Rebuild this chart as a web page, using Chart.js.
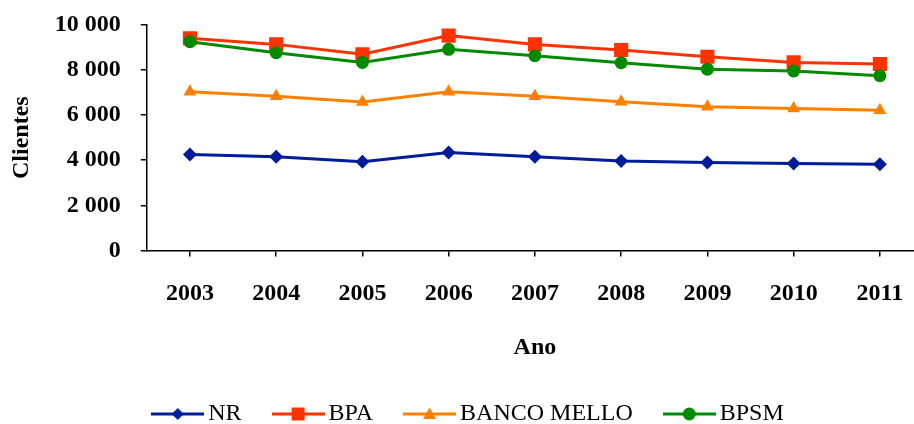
<!DOCTYPE html>
<html>
<head>
<meta charset="utf-8">
<script src="https://cdn.jsdelivr.net/npm/chart.js@4.4.1/dist/chart.umd.min.js"></script>
<style>
    html, body { margin: 0; padding: 0; background: #fff; overflow: hidden; }
    #wrap { width: 933px; height: 424px; }
</style>
</head>
<body>
<div id="wrap"><canvas id="chartClients" width="933" height="424"></canvas></div>
<script>
const years = ["2003", "2004", "2005", "2006", "2007", "2008", "2009", "2010", "2011"];
const nrValues = [4250, 4150, 3930, 4340, 4150, 3970, 3900, 3850, 3820];
const bpaValues = [9410, 9140, 8700, 9530, 9140, 8890, 8590, 8340, 8270];
const melloValues = [7040, 6840, 6580, 7040, 6840, 6590, 6370, 6300, 6220];
const bpsmValues = [9260, 8770, 8340, 8920, 8640, 8330, 8040, 7960, 7750];
const yTicks = [0, 2000, 4000, 6000, 8000, 10000];

const serif = "'Liberation Serif', 'Times New Roman', serif";

// little line+marker pictures for the legend
function legendIcon(color, shape) {
    const c = document.createElement("canvas");
    c.width = 53;
    c.height = 20;
    const g = c.getContext("2d");
    g.strokeStyle = color;
    g.fillStyle = color;
    g.lineWidth = 3;
    g.beginPath();
    g.moveTo(0, 10);
    g.lineTo(53, 10);
    g.stroke();
    g.beginPath();
    if (shape == "diamond") {
        g.moveTo(26.5, 4); g.lineTo(32.5, 10); g.lineTo(26.5, 16); g.lineTo(20.5, 10);
    } else if (shape == "square") {
        g.rect(20, 3.5, 13, 13);
    } else if (shape == "triangle") {
        g.moveTo(26.5, 3.5); g.lineTo(33, 15); g.lineTo(20, 15);
    } else {
        g.arc(26.5, 10, 6.5, 0, Math.PI * 2);
    }
    g.closePath();
    g.fill();
    return c;
}

const series = [
    { label: "NR", data: nrValues, color: "#001C99", style: "rectRot", r: 7, icon: "diamond", order: 4 },
    { label: "BPA", data: bpaValues, color: "#FF3300", style: "rect", r: 10, icon: "square", order: 3 },
    { label: "BANCO MELLO", data: melloValues, color: "#FF8000", style: "triangle", r: 7.5, icon: "triangle", order: 2 },
    { label: "BPSM", data: bpsmValues, color: "#008A00", style: "circle", r: 6.5, icon: "circle", order: 1 }
];
const icons = series.map(s => legendIcon(s.color, s.icon));

let chart = new Chart(document.getElementById("chartClients").getContext("2d"), {
    type: "line",
    data: {
        labels: years,
        datasets: series.map(s => ({
            label: s.label,
            data: s.data,
            borderColor: s.color,
            backgroundColor: s.color,
            borderWidth: 3,
            pointStyle: s.style,
            pointRadius: s.r,
            pointBorderWidth: 0,
            pointBackgroundColor: s.color,
            tension: 0,
            order: s.order
        }))
    },
    options: {
        responsive: false,
        animation: false,
        layout: { padding: { top: 25, left: 10, right: 0, bottom: -12 } },
        plugins: {
            tooltip: { enabled: false },
            legend: {
                position: "bottom",
                labels: {
                    usePointStyle: true,
                    pointStyleWidth: 37,
                    padding: 38,
                    color: "#000",
                    font: { family: serif, size: 24 },
                    generateLabels: (ch) => ch.data.datasets.map((ds, i) => ({
                        text: ds.label,
                        pointStyle: icons[i],
                        fillStyle: ds.borderColor,
                        strokeStyle: ds.borderColor,
                        lineWidth: 0,
                        hidden: false,
                        fontColor: "#000",
                        datasetIndex: i
                    }))
                }
            }
        },
        scales: {
            x: {
                offset: true,
                border: { color: "#000", width: 1.5 },
                grid: { drawOnChartArea: false, color: "#000", lineWidth: 1.5, tickLength: 6 },
                ticks: { color: "#000", padding: 23, maxRotation: 0, font: { family: serif, size: 24, weight: "bold" } },
                title: {
                    display: true,
                    text: "Ano",
                    color: "#000",
                    padding: { top: 2, bottom: 2 },
                    font: { family: serif, size: 24, weight: "bold" }
                }
            },
            y: {
                min: 0,
                max: 10000,
                border: { color: "#000", width: 1.5 },
                grid: { drawOnChartArea: false, color: "#000", lineWidth: 1.5, tickLength: 6 },
                afterBuildTicks: (axis) => { axis.ticks = yTicks.map(v => ({ value: v })); },
                afterFit: (axis) => { axis.paddingTop = 0; },
                ticks: {
                    color: "#000",
                    padding: 20,
                    font: { family: serif, size: 24, weight: "bold" },
                    callback: (v) => String(v).replace(/\B(?=(\d{3})+(?!\d))/g, " ")
                },
                title: {
                    display: true,
                    text: "Clientes",
                    color: "#000",
                    padding: { top: -3, bottom: -1 },
                    font: { family: serif, size: 24, weight: "bold" }
                }
            }
        }
    }
});
</script>
</body>
</html>
